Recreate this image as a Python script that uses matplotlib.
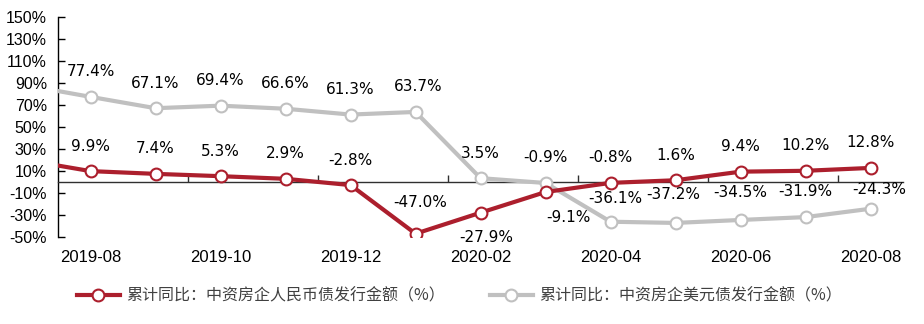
import matplotlib.pyplot as plt
from matplotlib.lines import Line2D
from matplotlib.ticker import FuncFormatter

months = ['2019-07', '2019-08', '2019-09', '2019-10', '2019-11', '2019-12', '2020-01',
          '2020-02', '2020-03', '2020-04', '2020-05', '2020-06', '2020-07', '2020-08']
rmb = [20.0, 9.9, 7.4, 5.3, 2.9, -2.8, -47.0, -27.9, -9.1, -0.8, 1.6, 9.4, 10.2, 12.8]
usd = [88.0, 77.4, 67.1, 69.4, 66.6, 61.3, 63.7, 3.5, -0.9, -36.1, -37.2, -34.5, -31.9, -24.3]

name_rmb = '累计同比：中资房企人民币债发行金额（%）'
name_usd = '累计同比：中资房企美元债发行金额（%）'

# label offsets in pixels (dx, dy) from each point
off_rmb = [(0, 25)] * 14
off_rmb[6] = (5, 31)
off_rmb[7] = (6, -25)
off_rmb[8] = (23, -25)
off_usd = [(0, 25)] * 14
off_usd[6] = (3, 25)
off_usd[9] = (5, 23)
off_usd[10] = (-2, 28)
off_usd[11] = (0, 27)
off_usd[12] = (0, 26)
off_usd[13] = (9, 19)

red = '#AC1F2D'
grey = '#C0C0C0'

fig = plt.figure(figsize=(9.24, 3.24), dpi=100)
ax = fig.add_axes([0.0628, 0.2685, 0.9145, 0.679])

x = list(range(len(months)))
ax.plot(x, usd, color=grey, lw=3, marker='o', ms=8.5, mfc='white', mec=grey, mew=1.5,
        solid_joinstyle='round', zorder=3)
ax.plot(x, rmb, color=red, lw=3, marker='o', ms=8.5, mfc='white', mec=red, mew=1.5,
        solid_joinstyle='round', zorder=4)

for i in range(1, len(months)):
    ax.annotate('%.1f%%' % rmb[i], (i, rmb[i]), xytext=off_rmb[i], textcoords='offset pixels',
                ha='center', va='center', fontsize=11, family='DejaVu Sans', zorder=6)
    ax.annotate('%.1f%%' % usd[i], (i, usd[i]), xytext=off_usd[i], textcoords='offset pixels',
                ha='center', va='center', fontsize=11, family='DejaVu Sans', zorder=6)

ax.set_xlim(0.5, 13.5)
ax.set_ylim(-50, 150)
ax.set_yticks(range(-50, 151, 20))
ax.yaxis.set_major_formatter(FuncFormatter(lambda v, p: '%d%%' % v))

ax.set_xticks(x[1::2])
ax.set_xticklabels(months[1::2])
ax.set_xticks([i + 0.5 for i in range(2, 13, 2)], minor=True)

for s in ['top', 'right']:
    ax.spines[s].set_visible(False)
ax.spines['bottom'].set_position(('data', 0))
ax.spines['bottom'].set_color('#303030')
ax.spines['bottom'].set_linewidth(1)
ax.spines['left'].set_color('black')
ax.spines['left'].set_linewidth(1)

ax.tick_params(axis='x', which='major', length=0, pad=49, labelsize=12)
ax.tick_params(axis='x', which='minor', direction='in', length=5, width=1, color='#303030')
ax.tick_params(axis='y', direction='in', length=5, width=1, labelsize=11.5, pad=8)
for t in ax.get_xticklabels() + ax.get_yticklabels():
    t.set_family('Liberation Sans')

handles = [
    Line2D([], [], color=red, lw=3, marker='o', ms=8.5, mfc='white', mec=red, mew=1.5),
    Line2D([], [], color=grey, lw=3, marker='o', ms=8.5, mfc='white', mec=grey, mew=1.5),
]
leg = fig.legend(handles, [name_rmb, name_usd], loc='center', bbox_to_anchor=(0.497, 0.086),
                 ncol=2, frameon=False, handlelength=2.7, handletextpad=0.4, columnspacing=2.8,
                 prop={'family': ['Noto Sans CJK SC', 'DejaVu Sans'], 'size': 11.5})
for t in leg.get_texts():
    t.set_color('#404040')

fig.savefig('out.png', dpi=100)
